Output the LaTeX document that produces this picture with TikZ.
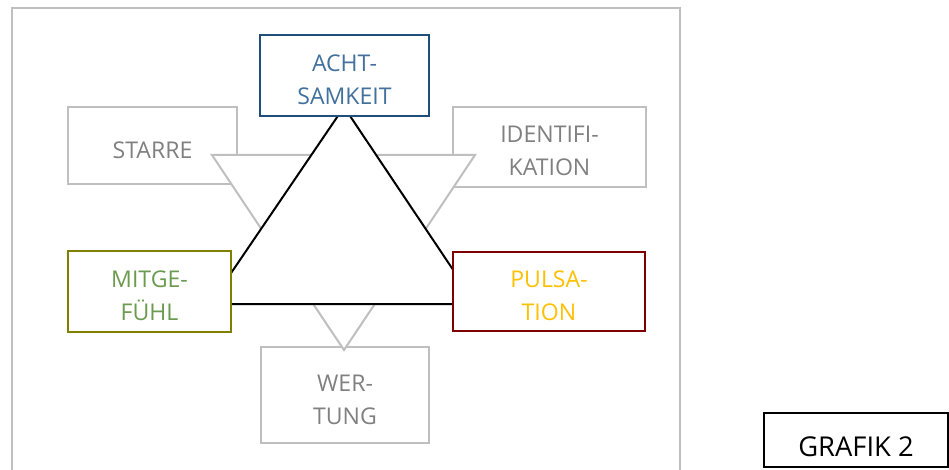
\documentclass[tikz,border=0pt]{standalone}
\usepackage{fontspec}
\setmainfont{Open Sans}
\definecolor{cgray}{HTML}{BFBFBF}
\definecolor{ctext}{HTML}{808080}
\definecolor{cnavy}{HTML}{1F4E79}
\definecolor{cblue}{HTML}{41719C}
\definecolor{colive}{HTML}{808000}
\definecolor{cgreen}{HTML}{6B9B4E}
\definecolor{cred}{HTML}{7F0000}
\definecolor{cgold}{HTML}{FFC000}
\newcommand\dnt[1]{\rule{0pt}{\dimexpr 12.5pt+#1\relax}}
\begin{document}
\begin{tikzpicture}[x=0.75pt,y=-0.75pt,
  box/.style={draw, line width=1.5pt, fill=white, align=center, inner sep=0pt,
    font=\fontsize{17.3}{24.5}\selectfont},
  graybox/.style={box, draw=cgray, text=ctext},
  funnel/.style={draw=cgray, line width=1.5pt, fill=white, line join=miter},
  tri/.style={draw=black, line width=1.5pt, fill=white, line join=miter}]
\useasboundingbox (0,0) rectangle (949,470);
% outer frame
\draw[cgray, line width=1.5pt] (12,472) -- (12,8) -- (680,8) -- (680,472);
% gray boxes
\node[graybox, minimum width=126.75pt, minimum height=57.75pt] (starre) at (152.5,145.5) {\dnt{6.75pt}STARRE};
\node[graybox, minimum width=144.75pt, minimum height=60pt] (ident) at (549.5,147) {\dnt{6pt}IDENTIFI-\\KATION};
\node[graybox, minimum width=126pt, minimum height=72pt] (wert) at (345,395) {\dnt{7.5pt}WER-\\TUNG};
% funnels
\draw[funnel] (212,155) -- (362,155) -- (287,267.5) -- cycle;
\draw[funnel] (325,155) -- (475,155) -- (400,267.5) -- cycle;
\draw[funnel] (269,238) -- (419,238) -- (344,350) -- cycle;
% triangle
\coordinate (tA) at (344,107);
\coordinate (tL) at (210,304);
\coordinate (tR) at (476,304);
\draw[tri] (tA) -- (tL) -- (tR) -- cycle;
% colored boxes
\node[box, draw=cnavy, text=cblue, minimum width=126.75pt, minimum height=60.75pt] (acht) at (344.5,75.5) {\dnt{6pt}ACHT-\\SAMKEIT};
\node[box, draw=colive, text=cgreen, minimum width=122.25pt, minimum height=60.75pt] (mitge) at (149.5,291.5) {\dnt{6.75pt}MITGE-\\FÜHL};
\node[box, draw=cred, text=cgold, minimum width=144pt, minimum height=59.25pt] (pulsa) at (549,291.5) {\dnt{6.75pt}PULSA-\\TION};
% label box
\node[box, draw=black, text=black, minimum width=138pt, minimum height=40.5pt,
  font=\fontsize{20.5}{24.5}\selectfont] (grafik) at (856,440) {\dnt{11.9pt}GRAFIK 2};
\end{tikzpicture}
\end{document}
